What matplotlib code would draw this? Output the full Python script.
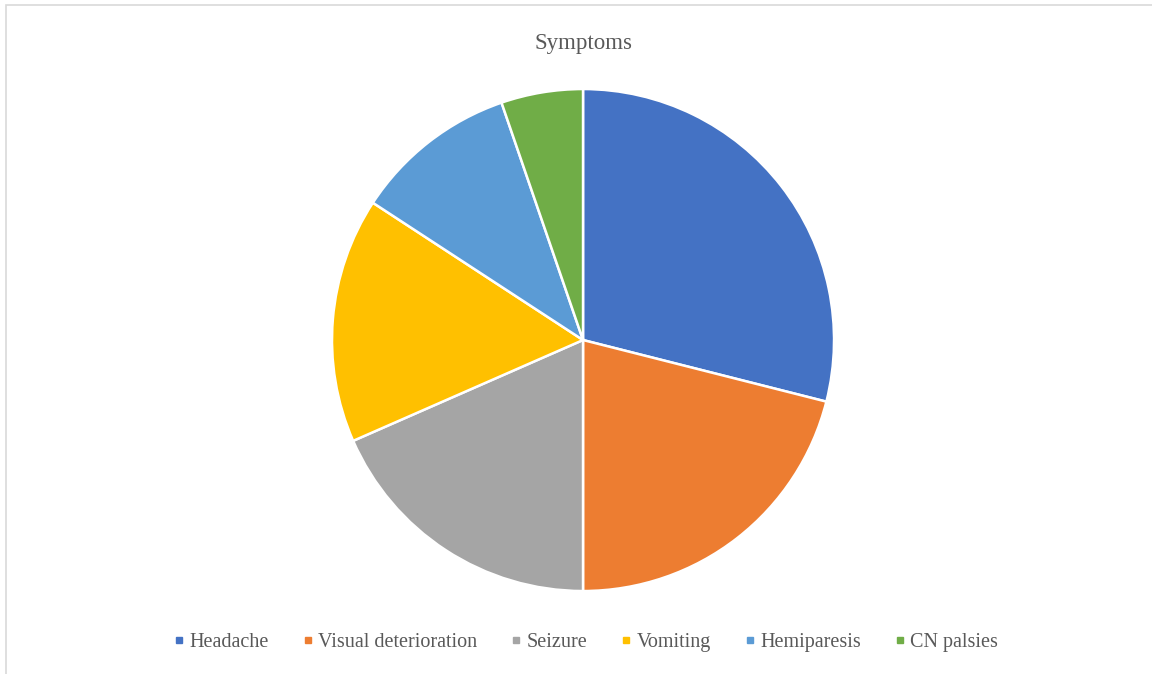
import matplotlib.pyplot as plt
from matplotlib.lines import Line2D
from matplotlib.patches import Rectangle

# symptom counts
symptoms = ["Headache", "Visual deterioration", "Seizure", "Vomiting", "Hemiparesis", "CN palsies"]
counts = [11, 8, 7, 6, 4, 2]
colors = ["#4472C4", "#ED7D31", "#A5A5A5", "#FFC000", "#5B9BD5", "#70AD47"]

plt.rcParams['font.family'] = ['Liberation Serif', 'DejaVu Serif']

fig = plt.figure(figsize=(11.52, 6.74), dpi=100)

# light frame around the chart area
fig.add_artist(Rectangle((6 / 1152, -0.01), 1.2, (674 - 5) / 674 + 0.01,
                         transform=fig.transFigure, fill=False,
                         edgecolor="#D9D9D9", linewidth=1.2))

ax = fig.add_axes([0.2882, 0.1231, 0.4358, 0.7448])
ax.pie(counts, colors=colors, startangle=90, counterclock=False,
       wedgeprops=dict(edgecolor="white", linewidth=1.8))
ax.set_xlim(-1.0, 1.0)
ax.set_ylim(-1.0, 1.0)
ax.set_aspect("auto")
ax.axis("off")

fig.text(583 / 1152, 1 - 43 / 674, "Symptoms", ha="center", va="center",
         fontsize=16.5, color="#595959")

handles = [Line2D([], [], marker="s", linestyle="none", markersize=4.5,
                  markerfacecolor=c, markeredgecolor=c) for c in colors]
fig.legend(handles, symptoms, loc="center", bbox_to_anchor=(586 / 1152, 1 - 642 / 674),
           ncol=6, frameon=False, fontsize=14.5, labelcolor="#595959",
           handlelength=0.5, handletextpad=0.25, columnspacing=1.7)

fig.savefig("out.png", dpi=100, facecolor="white")
